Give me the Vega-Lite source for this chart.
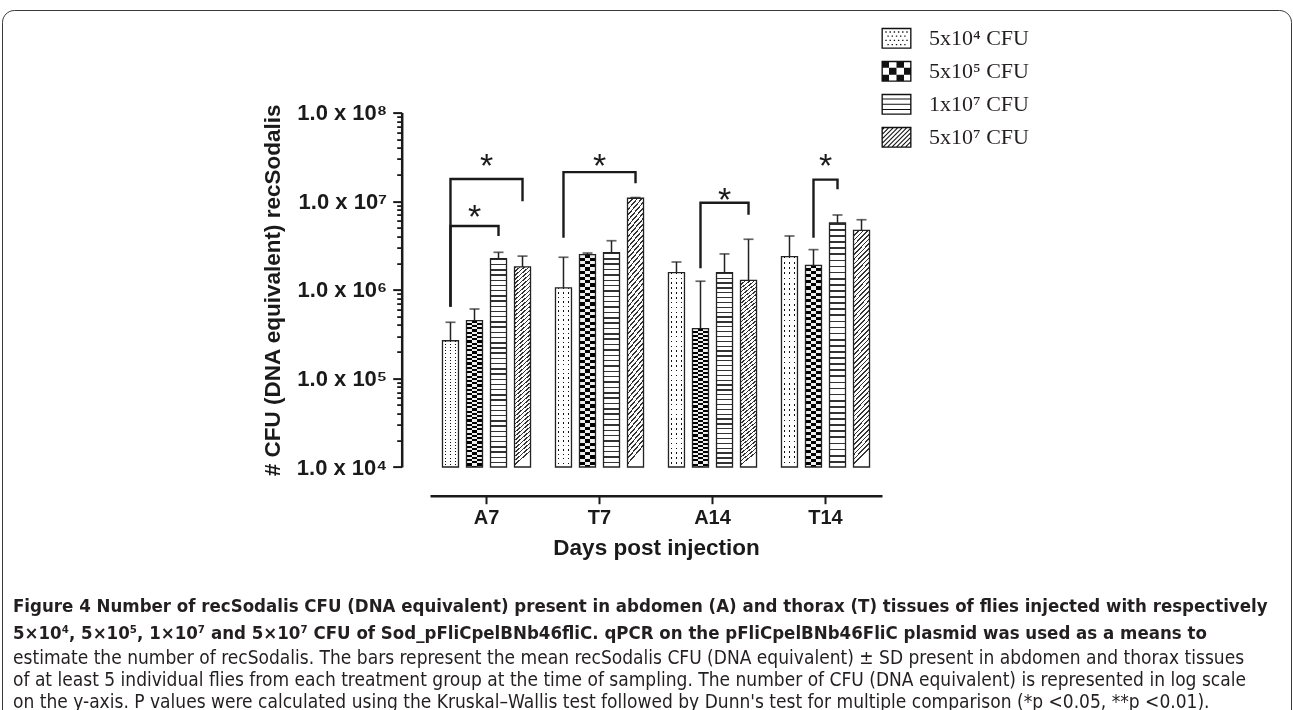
{
  "$schema": "https://vega.github.io/schema/vega-lite/v6.json",
  "width": 452,
  "height": 354.4,
  "autosize": "none",
  "padding": {"left": 430, "top": 112.6, "right": 411, "bottom": 243},
  "background": "white",
  "config": {
    "view": {"stroke": null},
    "font": "Liberation Sans",
    "axis": {"labelFont": "Liberation Sans", "titleFont": "Liberation Sans", "domainColor": "#1a1a1a", "tickColor": "#1a1a1a", "labelColor": "#1a1a1a", "titleColor": "#1a1a1a", "grid": false}
  },
  "datasets": {
    "bars": [
      {"group": "A7", "dose": "5x10⁴ CFU", "mean": 266000, "upper": 430000},
      {"group": "A7", "dose": "5x10⁵ CFU", "mean": 448000, "upper": 607000},
      {"group": "A7", "dose": "1x10⁷ CFU", "mean": 2240000, "upper": 2650000},
      {"group": "A7", "dose": "5x10⁷ CFU", "mean": 1810000, "upper": 2400000},
      {"group": "T7", "dose": "5x10⁴ CFU", "mean": 1050000, "upper": 2330000},
      {"group": "T7", "dose": "5x10⁵ CFU", "mean": 2490000, "upper": 2600000},
      {"group": "T7", "dose": "1x10⁷ CFU", "mean": 2620000, "upper": 3580000},
      {"group": "T7", "dose": "5x10⁷ CFU", "mean": 10800000, "upper": 11000000},
      {"group": "A14", "dose": "5x10⁴ CFU", "mean": 1560000, "upper": 2060000},
      {"group": "A14", "dose": "5x10⁵ CFU", "mean": 364000, "upper": 1250000},
      {"group": "A14", "dose": "1x10⁷ CFU", "mean": 1560000, "upper": 2540000},
      {"group": "A14", "dose": "5x10⁷ CFU", "mean": 1280000, "upper": 3720000},
      {"group": "T14", "dose": "5x10⁴ CFU", "mean": 2370000, "upper": 4050000},
      {"group": "T14", "dose": "5x10⁵ CFU", "mean": 1890000, "upper": 2840000},
      {"group": "T14", "dose": "1x10⁷ CFU", "mean": 5680000, "upper": 6990000},
      {"group": "T14", "dose": "5x10⁷ CFU", "mean": 4690000, "upper": 6180000}
    ],
    "brackets": [
      {"id": "A7in", "group": "A7", "dose": "5x10⁴ CFU", "y": 644000, "k": 1},
      {"id": "A7in", "group": "A7", "dose": "5x10⁴ CFU", "y": 5250000, "k": 2},
      {"id": "A7in", "group": "A7", "dose": "1x10⁷ CFU", "y": 5250000, "k": 3},
      {"id": "A7in", "group": "A7", "dose": "1x10⁷ CFU", "y": 4050000, "k": 4},
      {"id": "A7out", "group": "A7", "dose": "5x10⁴ CFU", "y": 644000, "k": 1},
      {"id": "A7out", "group": "A7", "dose": "5x10⁴ CFU", "y": 17800000, "k": 2},
      {"id": "A7out", "group": "A7", "dose": "5x10⁷ CFU", "y": 17800000, "k": 3},
      {"id": "A7out", "group": "A7", "dose": "5x10⁷ CFU", "y": 9980000, "k": 4},
      {"id": "T7", "group": "T7", "dose": "5x10⁴ CFU", "y": 3870000, "k": 1},
      {"id": "T7", "group": "T7", "dose": "5x10⁴ CFU", "y": 21300000, "k": 2},
      {"id": "T7", "group": "T7", "dose": "5x10⁷ CFU", "y": 21300000, "k": 3},
      {"id": "T7", "group": "T7", "dose": "5x10⁷ CFU", "y": 15900000, "k": 4},
      {"id": "A14", "group": "A14", "dose": "5x10⁵ CFU", "y": 1750000, "k": 1},
      {"id": "A14", "group": "A14", "dose": "5x10⁵ CFU", "y": 9600000, "k": 2},
      {"id": "A14", "group": "A14", "dose": "5x10⁷ CFU", "y": 9600000, "k": 3},
      {"id": "A14", "group": "A14", "dose": "5x10⁷ CFU", "y": 7050000, "k": 4},
      {"id": "T14", "group": "T14", "dose": "5x10⁵ CFU", "y": 3870000, "k": 1},
      {"id": "T14", "group": "T14", "dose": "5x10⁵ CFU", "y": 17500000, "k": 2},
      {"id": "T14", "group": "T14", "dose": "1x10⁷ CFU", "y": 17500000, "k": 3},
      {"id": "T14", "group": "T14", "dose": "1x10⁷ CFU", "y": 13600000, "k": 4}
    ],
    "starsOffset": [
      {"group": "A7", "pos": "5x10⁵ CFU", "y": 8170000, "label": "*"},
      {"group": "A14", "pos": "1x10⁷ CFU", "y": 12600000, "label": "*"}
    ],
    "starsCenter": [
      {"group": "A7", "y": 30800000, "label": "*"},
      {"group": "T7", "y": 30800000, "label": "*"},
      {"group": "T14", "y": 30600000, "label": "*"}
    ]
  },
  "title": {
    "text": [
      "Figure 4 Number of recSodalis CFU (DNA equivalent) present in abdomen (A) and thorax (T) tissues of flies injected with respectively",
      "5×10⁴, 5×10⁵, 1×10⁷ and 5×10⁷ CFU of Sod_pFliCpelBNb46fliC. qPCR on the pFliCpelBNb46FliC plasmid was used as a means to"
    ],
    "subtitle": [
      "estimate the number of recSodalis. The bars represent the mean recSodalis CFU (DNA equivalent) ± SD present in abdomen and thorax tissues",
      "of at least 5 individual flies from each treatment group at the time of sampling. The number of CFU (DNA equivalent) is represented in log scale",
      "on the y-axis. P values were calculated using the Kruskal–Wallis test followed by Dunn's test for multiple comparison (*p <0.05, **p <0.01)."
    ],
    "orient": "bottom",
    "anchor": "start",
    "frame": "group",
    "dx": -417,
    "offset": -154,
    "font": "DejaVu Sans Condensed, Liberation Sans Narrow, sans-serif",
    "fontSize": 18.5,
    "fontWeight": "bold",
    "color": "#231f20",
    "lineHeight": 27,
    "subtitleFont": "DejaVu Sans Condensed, Liberation Sans Narrow, sans-serif",
    "subtitleFontSize": 19,
    "subtitleColor": "#231f20",
    "subtitleLineHeight": 22,
    "subtitlePadding": 7
  },
  "encoding": {
    "x": {
      "field": "group",
      "type": "nominal",
      "sort": ["A7", "T7", "A14", "T14"],
      "scale": {"paddingInner": 0.15, "paddingOuter": 0.075},
      "axis": {
        "title": "Days post injection",
        "titleFontSize": 22.5,
        "titleFontWeight": "bold",
        "titlePadding": 9,
        "labelFontSize": 20,
        "labelFontWeight": "bold",
        "labelAngle": 0,
        "labelPadding": 4,
        "domainWidth": 2.5,
        "tickWidth": 2,
        "tickSize": 8,
        "offset": 28.7
      }
    }
  },
  "layer": [
    {
      "data": {"name": "bars"},
      "transform": [{"filter": "datum.dose === '5x10⁴ CFU'"}],
      "mark": {"type": "bar", "fill": {"gradient": "linear", "x1": 0, "y1": 0, "x2": 1, "y2": 0, "stops": [
        {"offset": 0, "color": "#fff"}, {"offset": 0.14, "color": "#fff"}, {"offset": 0.14, "color": "#111"}, {"offset": 0.23, "color": "#111"},
        {"offset": 0.23, "color": "#fff"}, {"offset": 0.455, "color": "#fff"}, {"offset": 0.455, "color": "#111"}, {"offset": 0.545, "color": "#111"},
        {"offset": 0.545, "color": "#fff"}, {"offset": 0.77, "color": "#fff"}, {"offset": 0.77, "color": "#111"}, {"offset": 0.86, "color": "#111"},
        {"offset": 0.86, "color": "#fff"}, {"offset": 1, "color": "#fff"}]}},
      "encoding": {
        "xOffset": {"field": "dose", "type": "nominal", "scale": {"domain": ["5x10⁴ CFU", "5x10⁵ CFU", "1x10⁷ CFU", "5x10⁷ CFU"], "paddingInner": 0.3333, "paddingOuter": 0.1667}},
        "y": {
          "field": "mean", "type": "quantitative",
          "scale": {"type": "log", "domain": [10000, 100000000], "nice": false},
          "axis": {
            "orient": "left",
            "values": [10000, 100000, 1000000, 10000000, 100000000],
            "labelExpr": "'1.0 x 10' + ['⁴','⁵','⁶','⁷','⁸'][round(log(datum.value)/LN10) - 4]",
            "title": "# CFU (DNA equivalent) recSodalis",
            "titleFontSize": 22.5,
            "titleFontWeight": "bold",
            "titlePadding": 12,
            "labelFontSize": 22,
            "labelFontWeight": "bold",
            "labelPadding": 6,
            "tickSize": 9,
            "tickWidth": 2,
            "domainWidth": 2.5,
            "offset": 28.3
          }
        },
        "y2": {"datum": 10000}
      }
    },
    {
      "data": {"name": "bars"},
      "transform": [{"filter": "datum.dose === '5x10⁴ CFU'"}],
      "mark": {"type": "bar", "blend": "lighten", "fill": {"gradient": "linear", "x1": 0, "y1": 0, "x2": 0, "y2": 1, "stops": [
        {"offset": 0, "color": "#111"}, {"offset": 0.008, "color": "#111"}, {"offset": 0.008, "color": "#fff"}, {"offset": 0.025, "color": "#fff"},
        {"offset": 0.025, "color": "#111"}, {"offset": 0.033, "color": "#111"}, {"offset": 0.033, "color": "#fff"}, {"offset": 0.05, "color": "#fff"},
        {"offset": 0.05, "color": "#111"}, {"offset": 0.058, "color": "#111"}, {"offset": 0.058, "color": "#fff"}, {"offset": 0.075, "color": "#fff"},
        {"offset": 0.075, "color": "#111"}, {"offset": 0.083, "color": "#111"}, {"offset": 0.083, "color": "#fff"}, {"offset": 0.1, "color": "#fff"},
        {"offset": 0.1, "color": "#111"}, {"offset": 0.108, "color": "#111"}, {"offset": 0.108, "color": "#fff"}, {"offset": 0.125, "color": "#fff"},
        {"offset": 0.125, "color": "#111"}, {"offset": 0.133, "color": "#111"}, {"offset": 0.133, "color": "#fff"}, {"offset": 0.15, "color": "#fff"},
        {"offset": 0.15, "color": "#111"}, {"offset": 0.158, "color": "#111"}, {"offset": 0.158, "color": "#fff"}, {"offset": 0.175, "color": "#fff"},
        {"offset": 0.175, "color": "#111"}, {"offset": 0.183, "color": "#111"}, {"offset": 0.183, "color": "#fff"}, {"offset": 0.2, "color": "#fff"},
        {"offset": 0.2, "color": "#111"}, {"offset": 0.208, "color": "#111"}, {"offset": 0.208, "color": "#fff"}, {"offset": 0.225, "color": "#fff"},
        {"offset": 0.225, "color": "#111"}, {"offset": 0.233, "color": "#111"}, {"offset": 0.233, "color": "#fff"}, {"offset": 0.25, "color": "#fff"},
        {"offset": 0.25, "color": "#111"}, {"offset": 0.258, "color": "#111"}, {"offset": 0.258, "color": "#fff"}, {"offset": 0.275, "color": "#fff"},
        {"offset": 0.275, "color": "#111"}, {"offset": 0.283, "color": "#111"}, {"offset": 0.283, "color": "#fff"}, {"offset": 0.3, "color": "#fff"},
        {"offset": 0.3, "color": "#111"}, {"offset": 0.308, "color": "#111"}, {"offset": 0.308, "color": "#fff"}, {"offset": 0.325, "color": "#fff"},
        {"offset": 0.325, "color": "#111"}, {"offset": 0.333, "color": "#111"}, {"offset": 0.333, "color": "#fff"}, {"offset": 0.35, "color": "#fff"},
        {"offset": 0.35, "color": "#111"}, {"offset": 0.358, "color": "#111"}, {"offset": 0.358, "color": "#fff"}, {"offset": 0.375, "color": "#fff"},
        {"offset": 0.375, "color": "#111"}, {"offset": 0.383, "color": "#111"}, {"offset": 0.383, "color": "#fff"}, {"offset": 0.4, "color": "#fff"},
        {"offset": 0.4, "color": "#111"}, {"offset": 0.408, "color": "#111"}, {"offset": 0.408, "color": "#fff"}, {"offset": 0.425, "color": "#fff"},
        {"offset": 0.425, "color": "#111"}, {"offset": 0.433, "color": "#111"}, {"offset": 0.433, "color": "#fff"}, {"offset": 0.45, "color": "#fff"},
        {"offset": 0.45, "color": "#111"}, {"offset": 0.458, "color": "#111"}, {"offset": 0.458, "color": "#fff"}, {"offset": 0.475, "color": "#fff"},
        {"offset": 0.475, "color": "#111"}, {"offset": 0.483, "color": "#111"}, {"offset": 0.483, "color": "#fff"}, {"offset": 0.5, "color": "#fff"},
        {"offset": 0.5, "color": "#111"}, {"offset": 0.508, "color": "#111"}, {"offset": 0.508, "color": "#fff"}, {"offset": 0.525, "color": "#fff"},
        {"offset": 0.525, "color": "#111"}, {"offset": 0.533, "color": "#111"}, {"offset": 0.533, "color": "#fff"}, {"offset": 0.55, "color": "#fff"},
        {"offset": 0.55, "color": "#111"}, {"offset": 0.558, "color": "#111"}, {"offset": 0.558, "color": "#fff"}, {"offset": 0.575, "color": "#fff"},
        {"offset": 0.575, "color": "#111"}, {"offset": 0.583, "color": "#111"}, {"offset": 0.583, "color": "#fff"}, {"offset": 0.6, "color": "#fff"},
        {"offset": 0.6, "color": "#111"}, {"offset": 0.608, "color": "#111"}, {"offset": 0.608, "color": "#fff"}, {"offset": 0.625, "color": "#fff"},
        {"offset": 0.625, "color": "#111"}, {"offset": 0.633, "color": "#111"}, {"offset": 0.633, "color": "#fff"}, {"offset": 0.65, "color": "#fff"},
        {"offset": 0.65, "color": "#111"}, {"offset": 0.658, "color": "#111"}, {"offset": 0.658, "color": "#fff"}, {"offset": 0.675, "color": "#fff"},
        {"offset": 0.675, "color": "#111"}, {"offset": 0.683, "color": "#111"}, {"offset": 0.683, "color": "#fff"}, {"offset": 0.7, "color": "#fff"},
        {"offset": 0.7, "color": "#111"}, {"offset": 0.708, "color": "#111"}, {"offset": 0.708, "color": "#fff"}, {"offset": 0.725, "color": "#fff"},
        {"offset": 0.725, "color": "#111"}, {"offset": 0.733, "color": "#111"}, {"offset": 0.733, "color": "#fff"}, {"offset": 0.75, "color": "#fff"},
        {"offset": 0.75, "color": "#111"}, {"offset": 0.758, "color": "#111"}, {"offset": 0.758, "color": "#fff"}, {"offset": 0.775, "color": "#fff"},
        {"offset": 0.775, "color": "#111"}, {"offset": 0.783, "color": "#111"}, {"offset": 0.783, "color": "#fff"}, {"offset": 0.8, "color": "#fff"},
        {"offset": 0.8, "color": "#111"}, {"offset": 0.808, "color": "#111"}, {"offset": 0.808, "color": "#fff"}, {"offset": 0.825, "color": "#fff"},
        {"offset": 0.825, "color": "#111"}, {"offset": 0.833, "color": "#111"}, {"offset": 0.833, "color": "#fff"}, {"offset": 0.85, "color": "#fff"},
        {"offset": 0.85, "color": "#111"}, {"offset": 0.858, "color": "#111"}, {"offset": 0.858, "color": "#fff"}, {"offset": 0.875, "color": "#fff"},
        {"offset": 0.875, "color": "#111"}, {"offset": 0.883, "color": "#111"}, {"offset": 0.883, "color": "#fff"}, {"offset": 0.9, "color": "#fff"},
        {"offset": 0.9, "color": "#111"}, {"offset": 0.908, "color": "#111"}, {"offset": 0.908, "color": "#fff"}, {"offset": 0.925, "color": "#fff"},
        {"offset": 0.925, "color": "#111"}, {"offset": 0.933, "color": "#111"}, {"offset": 0.933, "color": "#fff"}, {"offset": 0.95, "color": "#fff"},
        {"offset": 0.95, "color": "#111"}, {"offset": 0.958, "color": "#111"}, {"offset": 0.958, "color": "#fff"}, {"offset": 0.975, "color": "#fff"},
        {"offset": 0.975, "color": "#111"}, {"offset": 0.983, "color": "#111"}, {"offset": 0.983, "color": "#fff"}, {"offset": 1, "color": "#fff"}]}},
      "encoding": {
        "xOffset": {"field": "dose", "type": "nominal", "scale": {"domain": ["5x10⁴ CFU", "5x10⁵ CFU", "1x10⁷ CFU", "5x10⁷ CFU"], "paddingInner": 0.3333, "paddingOuter": 0.1667}},
        "y": {
          "field": "mean", "type": "quantitative",
          "scale": {"type": "log", "domain": [10000, 100000000], "nice": false},
          "axis": {
            "orient": "left",
            "values": [20000, 30000, 40000, 50000, 60000, 70000, 80000, 90000, 200000, 300000, 400000, 500000, 600000, 700000, 800000, 900000, 2000000, 3000000, 4000000, 5000000, 6000000, 7000000, 8000000, 9000000, 20000000, 30000000, 40000000, 50000000, 60000000, 70000000, 80000000, 90000000],
            "labels": false,
            "domain": false,
            "title": null,
            "tickSize": 5,
            "tickWidth": 1.8,
            "offset": 28.3
          }
        },
        "y2": {"datum": 10000}
      }
    },
    {
      "data": {"name": "bars"},
      "transform": [{"filter": "datum.dose === '5x10⁵ CFU'"}],
      "mark": {"type": "bar", "fill": {"gradient": "linear", "x1": 0, "y1": 0, "x2": 1, "y2": 0, "stops": [
        {"offset": 0, "color": "#111"}, {"offset": 0.333, "color": "#111"}, {"offset": 0.333, "color": "#fff"}, {"offset": 0.667, "color": "#fff"},
        {"offset": 0.667, "color": "#111"}, {"offset": 1, "color": "#111"}]}},
      "encoding": {
        "xOffset": {"field": "dose", "type": "nominal", "scale": {"domain": ["5x10⁴ CFU", "5x10⁵ CFU", "1x10⁷ CFU", "5x10⁷ CFU"], "paddingInner": 0.3333, "paddingOuter": 0.1667}},
        "y": {"field": "mean", "type": "quantitative", "scale": {"type": "log", "domain": [10000, 100000000], "nice": false}, "axis": null},
        "y2": {"datum": 10000}
      }
    },
    {
      "data": {"name": "bars"},
      "transform": [{"filter": "datum.dose === '5x10⁵ CFU'"}],
      "mark": {"type": "bar", "blend": "difference", "fill": {"gradient": "linear", "x1": 0, "y1": 0, "x2": 0, "y2": 1, "stops": [
        {"offset": 0, "color": "#fff"}, {"offset": 0.015, "color": "#fff"}, {"offset": 0.015, "color": "#111"}, {"offset": 0.03, "color": "#111"},
        {"offset": 0.03, "color": "#fff"}, {"offset": 0.045, "color": "#fff"}, {"offset": 0.045, "color": "#111"}, {"offset": 0.06, "color": "#111"},
        {"offset": 0.06, "color": "#fff"}, {"offset": 0.075, "color": "#fff"}, {"offset": 0.075, "color": "#111"}, {"offset": 0.09, "color": "#111"},
        {"offset": 0.09, "color": "#fff"}, {"offset": 0.105, "color": "#fff"}, {"offset": 0.105, "color": "#111"}, {"offset": 0.12, "color": "#111"},
        {"offset": 0.12, "color": "#fff"}, {"offset": 0.135, "color": "#fff"}, {"offset": 0.135, "color": "#111"}, {"offset": 0.15, "color": "#111"},
        {"offset": 0.15, "color": "#fff"}, {"offset": 0.165, "color": "#fff"}, {"offset": 0.165, "color": "#111"}, {"offset": 0.18, "color": "#111"},
        {"offset": 0.18, "color": "#fff"}, {"offset": 0.195, "color": "#fff"}, {"offset": 0.195, "color": "#111"}, {"offset": 0.21, "color": "#111"},
        {"offset": 0.21, "color": "#fff"}, {"offset": 0.225, "color": "#fff"}, {"offset": 0.225, "color": "#111"}, {"offset": 0.24, "color": "#111"},
        {"offset": 0.24, "color": "#fff"}, {"offset": 0.255, "color": "#fff"}, {"offset": 0.255, "color": "#111"}, {"offset": 0.27, "color": "#111"},
        {"offset": 0.27, "color": "#fff"}, {"offset": 0.285, "color": "#fff"}, {"offset": 0.285, "color": "#111"}, {"offset": 0.3, "color": "#111"},
        {"offset": 0.3, "color": "#fff"}, {"offset": 0.315, "color": "#fff"}, {"offset": 0.315, "color": "#111"}, {"offset": 0.33, "color": "#111"},
        {"offset": 0.33, "color": "#fff"}, {"offset": 0.345, "color": "#fff"}, {"offset": 0.345, "color": "#111"}, {"offset": 0.36, "color": "#111"},
        {"offset": 0.36, "color": "#fff"}, {"offset": 0.375, "color": "#fff"}, {"offset": 0.375, "color": "#111"}, {"offset": 0.39, "color": "#111"},
        {"offset": 0.39, "color": "#fff"}, {"offset": 0.405, "color": "#fff"}, {"offset": 0.405, "color": "#111"}, {"offset": 0.42, "color": "#111"},
        {"offset": 0.42, "color": "#fff"}, {"offset": 0.435, "color": "#fff"}, {"offset": 0.435, "color": "#111"}, {"offset": 0.45, "color": "#111"},
        {"offset": 0.45, "color": "#fff"}, {"offset": 0.465, "color": "#fff"}, {"offset": 0.465, "color": "#111"}, {"offset": 0.48, "color": "#111"},
        {"offset": 0.48, "color": "#fff"}, {"offset": 0.495, "color": "#fff"}, {"offset": 0.495, "color": "#111"}, {"offset": 0.51, "color": "#111"},
        {"offset": 0.51, "color": "#fff"}, {"offset": 0.525, "color": "#fff"}, {"offset": 0.525, "color": "#111"}, {"offset": 0.54, "color": "#111"},
        {"offset": 0.54, "color": "#fff"}, {"offset": 0.555, "color": "#fff"}, {"offset": 0.555, "color": "#111"}, {"offset": 0.57, "color": "#111"},
        {"offset": 0.57, "color": "#fff"}, {"offset": 0.585, "color": "#fff"}, {"offset": 0.585, "color": "#111"}, {"offset": 0.6, "color": "#111"},
        {"offset": 0.6, "color": "#fff"}, {"offset": 0.615, "color": "#fff"}, {"offset": 0.615, "color": "#111"}, {"offset": 0.63, "color": "#111"},
        {"offset": 0.63, "color": "#fff"}, {"offset": 0.645, "color": "#fff"}, {"offset": 0.645, "color": "#111"}, {"offset": 0.66, "color": "#111"},
        {"offset": 0.66, "color": "#fff"}, {"offset": 0.675, "color": "#fff"}, {"offset": 0.675, "color": "#111"}, {"offset": 0.69, "color": "#111"},
        {"offset": 0.69, "color": "#fff"}, {"offset": 0.705, "color": "#fff"}, {"offset": 0.705, "color": "#111"}, {"offset": 0.72, "color": "#111"},
        {"offset": 0.72, "color": "#fff"}, {"offset": 0.735, "color": "#fff"}, {"offset": 0.735, "color": "#111"}, {"offset": 0.75, "color": "#111"},
        {"offset": 0.75, "color": "#fff"}, {"offset": 0.765, "color": "#fff"}, {"offset": 0.765, "color": "#111"}, {"offset": 0.78, "color": "#111"},
        {"offset": 0.78, "color": "#fff"}, {"offset": 0.795, "color": "#fff"}, {"offset": 0.795, "color": "#111"}, {"offset": 0.81, "color": "#111"},
        {"offset": 0.81, "color": "#fff"}, {"offset": 0.825, "color": "#fff"}, {"offset": 0.825, "color": "#111"}, {"offset": 0.84, "color": "#111"},
        {"offset": 0.84, "color": "#fff"}, {"offset": 0.855, "color": "#fff"}, {"offset": 0.855, "color": "#111"}, {"offset": 0.87, "color": "#111"},
        {"offset": 0.87, "color": "#fff"}, {"offset": 0.885, "color": "#fff"}, {"offset": 0.885, "color": "#111"}, {"offset": 0.9, "color": "#111"},
        {"offset": 0.9, "color": "#fff"}, {"offset": 0.915, "color": "#fff"}, {"offset": 0.915, "color": "#111"}, {"offset": 0.93, "color": "#111"},
        {"offset": 0.93, "color": "#fff"}, {"offset": 0.945, "color": "#fff"}, {"offset": 0.945, "color": "#111"}, {"offset": 0.96, "color": "#111"},
        {"offset": 0.96, "color": "#fff"}, {"offset": 0.975, "color": "#fff"}, {"offset": 0.975, "color": "#111"}, {"offset": 0.99, "color": "#111"},
        {"offset": 0.99, "color": "#fff"}, {"offset": 1, "color": "#fff"}]}},
      "encoding": {
        "xOffset": {"field": "dose", "type": "nominal", "scale": {"domain": ["5x10⁴ CFU", "5x10⁵ CFU", "1x10⁷ CFU", "5x10⁷ CFU"], "paddingInner": 0.3333, "paddingOuter": 0.1667}},
        "y": {"field": "mean", "type": "quantitative", "scale": {"type": "log", "domain": [10000, 100000000], "nice": false}, "axis": null},
        "y2": {"datum": 10000}
      }
    },
    {
      "data": {"name": "bars"},
      "transform": [{"filter": "datum.dose === '1x10⁷ CFU'"}],
      "mark": {"type": "bar", "fill": {"gradient": "linear", "x1": 0, "y1": 0, "x2": 0, "y2": 1, "stops": [
        {"offset": 0, "color": "#333"}, {"offset": 0.007, "color": "#333"}, {"offset": 0.007, "color": "#fff"}, {"offset": 0.025, "color": "#fff"},
        {"offset": 0.025, "color": "#333"}, {"offset": 0.032, "color": "#333"}, {"offset": 0.032, "color": "#fff"}, {"offset": 0.05, "color": "#fff"},
        {"offset": 0.05, "color": "#333"}, {"offset": 0.057, "color": "#333"}, {"offset": 0.057, "color": "#fff"}, {"offset": 0.075, "color": "#fff"},
        {"offset": 0.075, "color": "#333"}, {"offset": 0.082, "color": "#333"}, {"offset": 0.082, "color": "#fff"}, {"offset": 0.1, "color": "#fff"},
        {"offset": 0.1, "color": "#333"}, {"offset": 0.107, "color": "#333"}, {"offset": 0.107, "color": "#fff"}, {"offset": 0.125, "color": "#fff"},
        {"offset": 0.125, "color": "#333"}, {"offset": 0.132, "color": "#333"}, {"offset": 0.132, "color": "#fff"}, {"offset": 0.15, "color": "#fff"},
        {"offset": 0.15, "color": "#333"}, {"offset": 0.157, "color": "#333"}, {"offset": 0.157, "color": "#fff"}, {"offset": 0.175, "color": "#fff"},
        {"offset": 0.175, "color": "#333"}, {"offset": 0.182, "color": "#333"}, {"offset": 0.182, "color": "#fff"}, {"offset": 0.2, "color": "#fff"},
        {"offset": 0.2, "color": "#333"}, {"offset": 0.207, "color": "#333"}, {"offset": 0.207, "color": "#fff"}, {"offset": 0.225, "color": "#fff"},
        {"offset": 0.225, "color": "#333"}, {"offset": 0.232, "color": "#333"}, {"offset": 0.232, "color": "#fff"}, {"offset": 0.25, "color": "#fff"},
        {"offset": 0.25, "color": "#333"}, {"offset": 0.257, "color": "#333"}, {"offset": 0.257, "color": "#fff"}, {"offset": 0.275, "color": "#fff"},
        {"offset": 0.275, "color": "#333"}, {"offset": 0.282, "color": "#333"}, {"offset": 0.282, "color": "#fff"}, {"offset": 0.3, "color": "#fff"},
        {"offset": 0.3, "color": "#333"}, {"offset": 0.307, "color": "#333"}, {"offset": 0.307, "color": "#fff"}, {"offset": 0.325, "color": "#fff"},
        {"offset": 0.325, "color": "#333"}, {"offset": 0.332, "color": "#333"}, {"offset": 0.332, "color": "#fff"}, {"offset": 0.35, "color": "#fff"},
        {"offset": 0.35, "color": "#333"}, {"offset": 0.357, "color": "#333"}, {"offset": 0.357, "color": "#fff"}, {"offset": 0.375, "color": "#fff"},
        {"offset": 0.375, "color": "#333"}, {"offset": 0.382, "color": "#333"}, {"offset": 0.382, "color": "#fff"}, {"offset": 0.4, "color": "#fff"},
        {"offset": 0.4, "color": "#333"}, {"offset": 0.407, "color": "#333"}, {"offset": 0.407, "color": "#fff"}, {"offset": 0.425, "color": "#fff"},
        {"offset": 0.425, "color": "#333"}, {"offset": 0.432, "color": "#333"}, {"offset": 0.432, "color": "#fff"}, {"offset": 0.45, "color": "#fff"},
        {"offset": 0.45, "color": "#333"}, {"offset": 0.457, "color": "#333"}, {"offset": 0.457, "color": "#fff"}, {"offset": 0.475, "color": "#fff"},
        {"offset": 0.475, "color": "#333"}, {"offset": 0.482, "color": "#333"}, {"offset": 0.482, "color": "#fff"}, {"offset": 0.5, "color": "#fff"},
        {"offset": 0.5, "color": "#333"}, {"offset": 0.507, "color": "#333"}, {"offset": 0.507, "color": "#fff"}, {"offset": 0.525, "color": "#fff"},
        {"offset": 0.525, "color": "#333"}, {"offset": 0.532, "color": "#333"}, {"offset": 0.532, "color": "#fff"}, {"offset": 0.55, "color": "#fff"},
        {"offset": 0.55, "color": "#333"}, {"offset": 0.557, "color": "#333"}, {"offset": 0.557, "color": "#fff"}, {"offset": 0.575, "color": "#fff"},
        {"offset": 0.575, "color": "#333"}, {"offset": 0.582, "color": "#333"}, {"offset": 0.582, "color": "#fff"}, {"offset": 0.6, "color": "#fff"},
        {"offset": 0.6, "color": "#333"}, {"offset": 0.607, "color": "#333"}, {"offset": 0.607, "color": "#fff"}, {"offset": 0.625, "color": "#fff"},
        {"offset": 0.625, "color": "#333"}, {"offset": 0.632, "color": "#333"}, {"offset": 0.632, "color": "#fff"}, {"offset": 0.65, "color": "#fff"},
        {"offset": 0.65, "color": "#333"}, {"offset": 0.657, "color": "#333"}, {"offset": 0.657, "color": "#fff"}, {"offset": 0.675, "color": "#fff"},
        {"offset": 0.675, "color": "#333"}, {"offset": 0.682, "color": "#333"}, {"offset": 0.682, "color": "#fff"}, {"offset": 0.7, "color": "#fff"},
        {"offset": 0.7, "color": "#333"}, {"offset": 0.707, "color": "#333"}, {"offset": 0.707, "color": "#fff"}, {"offset": 0.725, "color": "#fff"},
        {"offset": 0.725, "color": "#333"}, {"offset": 0.732, "color": "#333"}, {"offset": 0.732, "color": "#fff"}, {"offset": 0.75, "color": "#fff"},
        {"offset": 0.75, "color": "#333"}, {"offset": 0.757, "color": "#333"}, {"offset": 0.757, "color": "#fff"}, {"offset": 0.775, "color": "#fff"},
        {"offset": 0.775, "color": "#333"}, {"offset": 0.782, "color": "#333"}, {"offset": 0.782, "color": "#fff"}, {"offset": 0.8, "color": "#fff"},
        {"offset": 0.8, "color": "#333"}, {"offset": 0.807, "color": "#333"}, {"offset": 0.807, "color": "#fff"}, {"offset": 0.825, "color": "#fff"},
        {"offset": 0.825, "color": "#333"}, {"offset": 0.832, "color": "#333"}, {"offset": 0.832, "color": "#fff"}, {"offset": 0.85, "color": "#fff"},
        {"offset": 0.85, "color": "#333"}, {"offset": 0.857, "color": "#333"}, {"offset": 0.857, "color": "#fff"}, {"offset": 0.875, "color": "#fff"},
        {"offset": 0.875, "color": "#333"}, {"offset": 0.882, "color": "#333"}, {"offset": 0.882, "color": "#fff"}, {"offset": 0.9, "color": "#fff"},
        {"offset": 0.9, "color": "#333"}, {"offset": 0.907, "color": "#333"}, {"offset": 0.907, "color": "#fff"}, {"offset": 0.925, "color": "#fff"},
        {"offset": 0.925, "color": "#333"}, {"offset": 0.932, "color": "#333"}, {"offset": 0.932, "color": "#fff"}, {"offset": 0.95, "color": "#fff"},
        {"offset": 0.95, "color": "#333"}, {"offset": 0.957, "color": "#333"}, {"offset": 0.957, "color": "#fff"}, {"offset": 0.975, "color": "#fff"},
        {"offset": 0.975, "color": "#333"}, {"offset": 0.982, "color": "#333"}, {"offset": 0.982, "color": "#fff"}, {"offset": 1, "color": "#fff"}]}},
      "encoding": {
        "xOffset": {"field": "dose", "type": "nominal", "scale": {"domain": ["5x10⁴ CFU", "5x10⁵ CFU", "1x10⁷ CFU", "5x10⁷ CFU"], "paddingInner": 0.3333, "paddingOuter": 0.1667}},
        "y": {"field": "mean", "type": "quantitative", "scale": {"type": "log", "domain": [10000, 100000000], "nice": false}, "axis": null},
        "y2": {"datum": 10000}
      }
    },
    {
      "data": {"name": "bars"},
      "transform": [{"filter": "datum.dose === '5x10⁷ CFU'"}],
      "mark": {"type": "bar", "fill": {"gradient": "linear", "x1": 0, "y1": 0, "x2": 0.07, "y2": 1, "stops": [
        {"offset": 0, "color": "#333"}, {"offset": 0.007, "color": "#333"}, {"offset": 0.007, "color": "#fff"}, {"offset": 0.02, "color": "#fff"},
        {"offset": 0.02, "color": "#333"}, {"offset": 0.027, "color": "#333"}, {"offset": 0.027, "color": "#fff"}, {"offset": 0.04, "color": "#fff"},
        {"offset": 0.04, "color": "#333"}, {"offset": 0.047, "color": "#333"}, {"offset": 0.047, "color": "#fff"}, {"offset": 0.06, "color": "#fff"},
        {"offset": 0.06, "color": "#333"}, {"offset": 0.067, "color": "#333"}, {"offset": 0.067, "color": "#fff"}, {"offset": 0.08, "color": "#fff"},
        {"offset": 0.08, "color": "#333"}, {"offset": 0.087, "color": "#333"}, {"offset": 0.087, "color": "#fff"}, {"offset": 0.1, "color": "#fff"},
        {"offset": 0.1, "color": "#333"}, {"offset": 0.107, "color": "#333"}, {"offset": 0.107, "color": "#fff"}, {"offset": 0.12, "color": "#fff"},
        {"offset": 0.12, "color": "#333"}, {"offset": 0.127, "color": "#333"}, {"offset": 0.127, "color": "#fff"}, {"offset": 0.14, "color": "#fff"},
        {"offset": 0.14, "color": "#333"}, {"offset": 0.147, "color": "#333"}, {"offset": 0.147, "color": "#fff"}, {"offset": 0.16, "color": "#fff"},
        {"offset": 0.16, "color": "#333"}, {"offset": 0.167, "color": "#333"}, {"offset": 0.167, "color": "#fff"}, {"offset": 0.18, "color": "#fff"},
        {"offset": 0.18, "color": "#333"}, {"offset": 0.187, "color": "#333"}, {"offset": 0.187, "color": "#fff"}, {"offset": 0.2, "color": "#fff"},
        {"offset": 0.2, "color": "#333"}, {"offset": 0.207, "color": "#333"}, {"offset": 0.207, "color": "#fff"}, {"offset": 0.22, "color": "#fff"},
        {"offset": 0.22, "color": "#333"}, {"offset": 0.227, "color": "#333"}, {"offset": 0.227, "color": "#fff"}, {"offset": 0.24, "color": "#fff"},
        {"offset": 0.24, "color": "#333"}, {"offset": 0.247, "color": "#333"}, {"offset": 0.247, "color": "#fff"}, {"offset": 0.26, "color": "#fff"},
        {"offset": 0.26, "color": "#333"}, {"offset": 0.267, "color": "#333"}, {"offset": 0.267, "color": "#fff"}, {"offset": 0.28, "color": "#fff"},
        {"offset": 0.28, "color": "#333"}, {"offset": 0.287, "color": "#333"}, {"offset": 0.287, "color": "#fff"}, {"offset": 0.3, "color": "#fff"},
        {"offset": 0.3, "color": "#333"}, {"offset": 0.307, "color": "#333"}, {"offset": 0.307, "color": "#fff"}, {"offset": 0.32, "color": "#fff"},
        {"offset": 0.32, "color": "#333"}, {"offset": 0.327, "color": "#333"}, {"offset": 0.327, "color": "#fff"}, {"offset": 0.34, "color": "#fff"},
        {"offset": 0.34, "color": "#333"}, {"offset": 0.347, "color": "#333"}, {"offset": 0.347, "color": "#fff"}, {"offset": 0.36, "color": "#fff"},
        {"offset": 0.36, "color": "#333"}, {"offset": 0.367, "color": "#333"}, {"offset": 0.367, "color": "#fff"}, {"offset": 0.38, "color": "#fff"},
        {"offset": 0.38, "color": "#333"}, {"offset": 0.387, "color": "#333"}, {"offset": 0.387, "color": "#fff"}, {"offset": 0.4, "color": "#fff"},
        {"offset": 0.4, "color": "#333"}, {"offset": 0.407, "color": "#333"}, {"offset": 0.407, "color": "#fff"}, {"offset": 0.42, "color": "#fff"},
        {"offset": 0.42, "color": "#333"}, {"offset": 0.427, "color": "#333"}, {"offset": 0.427, "color": "#fff"}, {"offset": 0.44, "color": "#fff"},
        {"offset": 0.44, "color": "#333"}, {"offset": 0.447, "color": "#333"}, {"offset": 0.447, "color": "#fff"}, {"offset": 0.46, "color": "#fff"},
        {"offset": 0.46, "color": "#333"}, {"offset": 0.467, "color": "#333"}, {"offset": 0.467, "color": "#fff"}, {"offset": 0.48, "color": "#fff"},
        {"offset": 0.48, "color": "#333"}, {"offset": 0.487, "color": "#333"}, {"offset": 0.487, "color": "#fff"}, {"offset": 0.5, "color": "#fff"},
        {"offset": 0.5, "color": "#333"}, {"offset": 0.507, "color": "#333"}, {"offset": 0.507, "color": "#fff"}, {"offset": 0.52, "color": "#fff"},
        {"offset": 0.52, "color": "#333"}, {"offset": 0.527, "color": "#333"}, {"offset": 0.527, "color": "#fff"}, {"offset": 0.54, "color": "#fff"},
        {"offset": 0.54, "color": "#333"}, {"offset": 0.547, "color": "#333"}, {"offset": 0.547, "color": "#fff"}, {"offset": 0.56, "color": "#fff"},
        {"offset": 0.56, "color": "#333"}, {"offset": 0.567, "color": "#333"}, {"offset": 0.567, "color": "#fff"}, {"offset": 0.58, "color": "#fff"},
        {"offset": 0.58, "color": "#333"}, {"offset": 0.587, "color": "#333"}, {"offset": 0.587, "color": "#fff"}, {"offset": 0.6, "color": "#fff"},
        {"offset": 0.6, "color": "#333"}, {"offset": 0.607, "color": "#333"}, {"offset": 0.607, "color": "#fff"}, {"offset": 0.62, "color": "#fff"},
        {"offset": 0.62, "color": "#333"}, {"offset": 0.627, "color": "#333"}, {"offset": 0.627, "color": "#fff"}, {"offset": 0.64, "color": "#fff"},
        {"offset": 0.64, "color": "#333"}, {"offset": 0.647, "color": "#333"}, {"offset": 0.647, "color": "#fff"}, {"offset": 0.66, "color": "#fff"},
        {"offset": 0.66, "color": "#333"}, {"offset": 0.667, "color": "#333"}, {"offset": 0.667, "color": "#fff"}, {"offset": 0.68, "color": "#fff"},
        {"offset": 0.68, "color": "#333"}, {"offset": 0.687, "color": "#333"}, {"offset": 0.687, "color": "#fff"}, {"offset": 0.7, "color": "#fff"},
        {"offset": 0.7, "color": "#333"}, {"offset": 0.707, "color": "#333"}, {"offset": 0.707, "color": "#fff"}, {"offset": 0.72, "color": "#fff"},
        {"offset": 0.72, "color": "#333"}, {"offset": 0.727, "color": "#333"}, {"offset": 0.727, "color": "#fff"}, {"offset": 0.74, "color": "#fff"},
        {"offset": 0.74, "color": "#333"}, {"offset": 0.747, "color": "#333"}, {"offset": 0.747, "color": "#fff"}, {"offset": 0.76, "color": "#fff"},
        {"offset": 0.76, "color": "#333"}, {"offset": 0.767, "color": "#333"}, {"offset": 0.767, "color": "#fff"}, {"offset": 0.78, "color": "#fff"},
        {"offset": 0.78, "color": "#333"}, {"offset": 0.787, "color": "#333"}, {"offset": 0.787, "color": "#fff"}, {"offset": 0.8, "color": "#fff"},
        {"offset": 0.8, "color": "#333"}, {"offset": 0.807, "color": "#333"}, {"offset": 0.807, "color": "#fff"}, {"offset": 0.82, "color": "#fff"},
        {"offset": 0.82, "color": "#333"}, {"offset": 0.827, "color": "#333"}, {"offset": 0.827, "color": "#fff"}, {"offset": 0.84, "color": "#fff"},
        {"offset": 0.84, "color": "#333"}, {"offset": 0.847, "color": "#333"}, {"offset": 0.847, "color": "#fff"}, {"offset": 0.86, "color": "#fff"},
        {"offset": 0.86, "color": "#333"}, {"offset": 0.867, "color": "#333"}, {"offset": 0.867, "color": "#fff"}, {"offset": 0.88, "color": "#fff"},
        {"offset": 0.88, "color": "#333"}, {"offset": 0.887, "color": "#333"}, {"offset": 0.887, "color": "#fff"}, {"offset": 0.9, "color": "#fff"},
        {"offset": 0.9, "color": "#333"}, {"offset": 0.907, "color": "#333"}, {"offset": 0.907, "color": "#fff"}, {"offset": 0.92, "color": "#fff"},
        {"offset": 0.92, "color": "#333"}, {"offset": 0.927, "color": "#333"}, {"offset": 0.927, "color": "#fff"}, {"offset": 0.94, "color": "#fff"},
        {"offset": 0.94, "color": "#333"}, {"offset": 0.947, "color": "#333"}, {"offset": 0.947, "color": "#fff"}, {"offset": 0.96, "color": "#fff"},
        {"offset": 0.96, "color": "#333"}, {"offset": 0.967, "color": "#333"}, {"offset": 0.967, "color": "#fff"}, {"offset": 0.98, "color": "#fff"},
        {"offset": 0.98, "color": "#333"}, {"offset": 0.987, "color": "#333"}, {"offset": 0.987, "color": "#fff"}, {"offset": 1, "color": "#fff"}]}},
      "encoding": {
        "xOffset": {"field": "dose", "type": "nominal", "scale": {"domain": ["5x10⁴ CFU", "5x10⁵ CFU", "1x10⁷ CFU", "5x10⁷ CFU"], "paddingInner": 0.3333, "paddingOuter": 0.1667}},
        "y": {"field": "mean", "type": "quantitative", "scale": {"type": "log", "domain": [10000, 100000000], "nice": false}, "axis": null},
        "y2": {"datum": 10000}
      }
    },
    {
      "data": {"name": "bars"},
      "mark": {"type": "bar", "filled": false, "stroke": "#222", "strokeWidth": 1.3},
      "encoding": {
        "xOffset": {"field": "dose", "type": "nominal", "scale": {"domain": ["5x10⁴ CFU", "5x10⁵ CFU", "1x10⁷ CFU", "5x10⁷ CFU"], "paddingInner": 0.3333, "paddingOuter": 0.1667}},
        "y": {"field": "mean", "type": "quantitative", "scale": {"type": "log", "domain": [10000, 100000000], "nice": false}, "axis": null},
        "y2": {"datum": 10000}
      }
    },
    {
      "data": {"name": "bars"},
      "mark": {"type": "rule", "color": "#222", "strokeWidth": 1.5},
      "encoding": {
        "xOffset": {"field": "dose", "type": "nominal", "scale": {"domain": ["5x10⁴ CFU", "5x10⁵ CFU", "1x10⁷ CFU", "5x10⁷ CFU"], "paddingInner": 0.3333, "paddingOuter": 0.1667}},
        "y": {"field": "mean", "type": "quantitative", "scale": {"type": "log", "domain": [10000, 100000000], "nice": false}, "axis": null},
        "y2": {"field": "upper"}
      }
    },
    {
      "data": {"name": "bars"},
      "mark": {"type": "tick", "color": "#222", "thickness": 1.7, "size": 10, "orient": "horizontal"},
      "encoding": {
        "xOffset": {"field": "dose", "type": "nominal", "scale": {"domain": ["5x10⁴ CFU", "5x10⁵ CFU", "1x10⁷ CFU", "5x10⁷ CFU"], "paddingInner": 0.3333, "paddingOuter": 0.1667}},
        "y": {"field": "upper", "type": "quantitative", "scale": {"type": "log", "domain": [10000, 100000000], "nice": false}, "axis": null}
      }
    },
    {
      "data": {"name": "brackets"},
      "mark": {"type": "line", "color": "#1a1a1a", "strokeWidth": 2.4, "strokeCap": "butt", "strokeJoin": "miter"},
      "encoding": {
        "xOffset": {"field": "dose", "type": "nominal", "scale": {"domain": ["5x10⁴ CFU", "5x10⁵ CFU", "1x10⁷ CFU", "5x10⁷ CFU"], "paddingInner": 0.3333, "paddingOuter": 0.1667}},
        "y": {"field": "y", "type": "quantitative", "scale": {"type": "log", "domain": [10000, 100000000], "nice": false}, "axis": null},
        "detail": {"field": "id", "type": "nominal"},
        "order": {"field": "k", "type": "quantitative"}
      }
    },
    {
      "data": {"name": "starsOffset"},
      "mark": {"type": "text", "font": "Liberation Sans", "fontSize": 34, "baseline": "middle", "dy": 9, "color": "#1a1a1a"},
      "encoding": {
        "xOffset": {"field": "pos", "type": "nominal", "scale": {"domain": ["5x10⁴ CFU", "5x10⁵ CFU", "1x10⁷ CFU", "5x10⁷ CFU"], "paddingInner": 0.3333, "paddingOuter": 0.1667}},
        "y": {"field": "y", "type": "quantitative", "scale": {"type": "log", "domain": [10000, 100000000], "nice": false}, "axis": null},
        "text": {"field": "label"}
      }
    },
    {
      "data": {"name": "starsCenter"},
      "mark": {"type": "text", "font": "Liberation Sans", "fontSize": 34, "baseline": "middle", "dy": 9, "color": "#1a1a1a"},
      "encoding": {
        "y": {"field": "y", "type": "quantitative", "scale": {"type": "log", "domain": [10000, 100000000], "nice": false}, "axis": null},
        "text": {"field": "label"}
      }
    },
    {
      "data": {"name": "bars"},
      "mark": {"type": "point", "filled": true, "color": "#111", "opacity": 0},
      "encoding": {
        "xOffset": {"field": "dose", "type": "nominal", "scale": {"domain": ["5x10⁴ CFU", "5x10⁵ CFU", "1x10⁷ CFU", "5x10⁷ CFU"], "paddingInner": 0.3333, "paddingOuter": 0.1667}},
        "y": {"field": "mean", "type": "quantitative", "scale": {"type": "log", "domain": [10000, 100000000], "nice": false}, "axis": null},
        "shape": {
          "field": "dose",
          "type": "nominal",
          "scale": {
            "domain": ["5x10⁴ CFU", "5x10⁵ CFU", "1x10⁷ CFU", "5x10⁷ CFU"],
            "range": [
              "M-1,-0.7H1V0.7H-1ZM-0.91,-0.61V0.61H0.91V-0.61ZM-0.745,-0.465h0.09v0.09h-0.09ZM-0.465,-0.465h0.09v0.09h-0.09ZM-0.185,-0.465h0.09v0.09h-0.09ZM0.095,-0.465h0.09v0.09h-0.09ZM0.375,-0.465h0.09v0.09h-0.09ZM0.655,-0.465h0.09v0.09h-0.09ZM-0.605,-0.185h0.09v0.09h-0.09ZM-0.325,-0.185h0.09v0.09h-0.09ZM-0.045,-0.185h0.09v0.09h-0.09ZM0.235,-0.185h0.09v0.09h-0.09ZM0.515,-0.185h0.09v0.09h-0.09ZM-0.745,0.095h0.09v0.09h-0.09ZM-0.465,0.095h0.09v0.09h-0.09ZM-0.185,0.095h0.09v0.09h-0.09ZM0.095,0.095h0.09v0.09h-0.09ZM0.375,0.095h0.09v0.09h-0.09ZM0.655,0.095h0.09v0.09h-0.09ZM-0.605,0.375h0.09v0.09h-0.09ZM-0.325,0.375h0.09v0.09h-0.09ZM-0.045,0.375h0.09v0.09h-0.09ZM0.235,0.375h0.09v0.09h-0.09ZM0.515,0.375h0.09v0.09h-0.09Z",
              "M-1,-0.7H1V0.7H-1ZM-0.91,-0.61V0.61H0.91V-0.61ZM-1,-0.7h0.5v0.4667h-0.5ZM0,-0.7h0.5v0.4667h-0.5ZM-0.5,-0.2333h0.5v0.4667h-0.5ZM0.5,-0.2333h0.5v0.4667h-0.5ZM-1,0.2333h0.5v0.4667h-0.5ZM0,0.2333h0.5v0.4667h-0.5Z",
              "M-1,-0.7H1V0.7H-1ZM-0.91,-0.61V0.61H0.91V-0.61ZM-1,-0.385H1V-0.315H-1ZM-1,-0.035H1V0.035H-1ZM-1,0.315H1V0.385H-1Z",
              "M-1,-0.7H1V0.7H-1ZM-0.91,-0.61V0.61H0.91V-0.61ZM-1,-0.5L-0.8,-0.7L-0.7,-0.7L-1,-0.4ZM-1,-0.2L-0.5,-0.7L-0.4,-0.7L-1,-0.1ZM-1,0.1L-0.2,-0.7L-0.1,-0.7L-1,0.2ZM-1,0.4L0.1,-0.7L0.2,-0.7L-1,0.5ZM-1,0.7L0.4,-0.7L0.5,-0.7L-0.9,0.7ZM-0.7,0.7L0.7,-0.7L0.8,-0.7L-0.6,0.7ZM-0.4,0.7L1,-0.7L1,-0.6L-0.3,0.7ZM-0.1,0.7L1,-0.4L1,-0.3L0,0.7ZM0.2,0.7L1,-0.1L1,0L0.3,0.7ZM0.5,0.7L1,0.2L1,0.3L0.6,0.7ZM0.8,0.7L1,0.5L1,0.6L0.9,0.7Z"
            ]
          },
          "legend": {
            "title": null,
            "orient": "none",
            "legendX": 451,
            "legendY": -89.8,
            "padding": 0,
            "symbolSize": 900,
            "symbolFillColor": "#111",
            "symbolStrokeColor": "#111",
            "symbolStrokeWidth": 0.5,
            "symbolOpacity": 1,
            "labelFont": "Liberation Serif",
            "labelFontSize": 22,
            "labelColor": "#231f20",
            "labelOffset": 17,
            "labelLimit": 300,
            "rowPadding": 6
          }
        }
      }
    },
    {
      "data": {"name": "bars"},
      "mark": {"type": "point", "opacity": 0},
      "encoding": {
        "xOffset": {"field": "dose", "type": "nominal", "scale": {"domain": ["5x10⁴ CFU", "5x10⁵ CFU", "1x10⁷ CFU", "5x10⁷ CFU"], "paddingInner": 0.3333, "paddingOuter": 0.1667}},
        "y": {"field": "mean", "type": "quantitative", "scale": {"type": "log", "domain": [10000, 100000000], "nice": false}, "axis": null},
        "color": {
          "field": "upper",
          "type": "quantitative",
          "scale": {"range": ["#ffffff", "#ffffff"]},
          "legend": {
            "title": null,
            "orient": "none",
            "legendX": -428,
            "legendY": -102.6,
            "direction": "horizontal",
            "gradientLength": 569,
            "gradientThickness": 20,
            "gradientOpacity": 0,
            "gradientStrokeWidth": 0,
            "values": [],
            "labelOpacity": 0,
            "labelOffset": 0,
            "padding": 360,
            "strokeColor": "#3a3a3a",
            "cornerRadius": 12
          }
        }
      }
    }
  ],
  "resolve": {"axis": {"y": "independent"}}
}
